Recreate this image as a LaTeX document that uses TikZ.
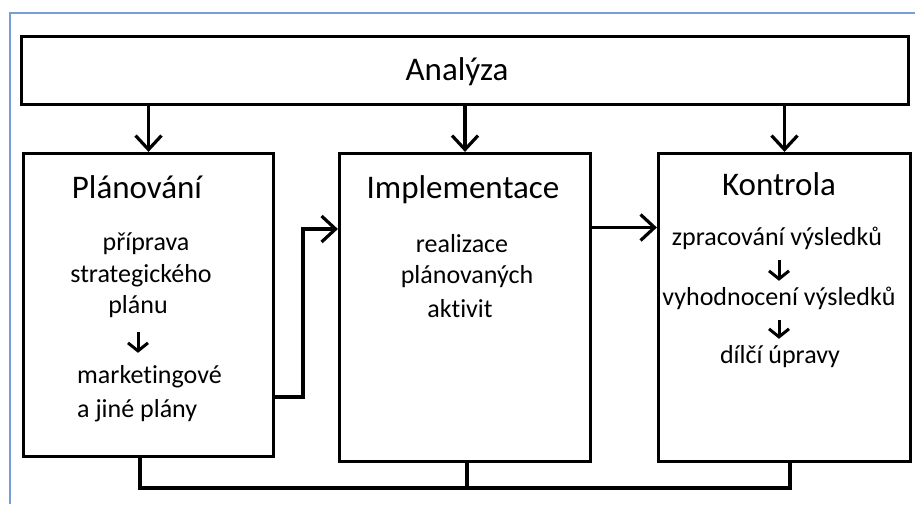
\documentclass[tikz,border=0pt]{standalone}
\usepackage{fontspec}
\setmainfont{Carlito}[Ligatures = CommonOff]
\usetikzlibrary{arrows.meta, positioning}
\definecolor{framebl}{RGB}{122,158,212}
\tikzset{>= {Straight Barb[length = 14pt, width = 26pt]},
         box/.style = {draw, line width = 3.2pt, minimum width = #1, inner sep = 0pt},
         conn/.style = {line width = 3.2pt},
         head/.style = {font = \fontsize{33}{40}\selectfont, anchor = base, inner sep = 0pt},
         body/.style = {font = \fontsize{26}{32}\selectfont, anchor = base, inner sep = 0pt,
                        text height = 20pt, text depth = 6pt},
         sarrow/.style = {line width = 3pt, shorten <= 9pt, shorten >= 4pt,
                          -{Straight Barb[length = 8pt, width = 20pt]}}}

\begin{document}
\begin{tikzpicture}[x = 1pt, y = -1pt]
  \useasboundingbox (0,0) rectangle (915,504);
  \draw[framebl, line width = 1.5pt] (10,504) -- (10,13) -- (915,13);

  \node[box = 887pt, minimum height = 68pt]  (An) at (465,70.5)  {};
  \node[box = 250pt, minimum height = 303pt] (P)  at (148.5,305) {};
  \node[box = 251pt, minimum height = 308pt] (I)  at (465,307.5) {};
  \node[box = 252pt, minimum height = 308pt] (K)  at (784.5,307.5) {};

  \node[head] (Ah) at (457,80)  {Analýza};
  \node[head] (Ph) at (137,198) {Plánování};
  \node[head] (Ih) at (463,198) {Implementace};
  \node[head] (Kh) at (779,195) {Kontrola};

  % planovani
  \node[body]             (Pa) at (146,250) {příprava};
  \node[body]             (Pb) at (141,282) {strategického};
  \node[body]             (Pc) at (138,313) {plánu};
  \node[body, anchor = base west] (Pd) at (77,383) {marketingové};
  \node[body, anchor = base west] (Pe) at (77,417) {a jiné plány};

  % implementace
  \node[body] (Ia) at (462,252) {realizace};
  \node[body] (Ib) at (467,283) {plánovaných};
  \node[body] (Ic) at (460,317) {aktivit};

  % kontrola
  \node[body] (Ka) at (777,245) {zpracování výsledků};
  \node[body] (Kb) at (779,305) {vyhodnocení výsledků};
  \node[body] (Kc) at (780,363) {dílčí úpravy};

  \coordinate (bend) at (303,229);
  \coordinate (fb)   at (0,488);

  \path[conn, ->] (An.south -| P) edge (P)
                  (An.south -| I) edge (I)
                  (An.south -| K) edge (K);
  \draw[conn, ->] ([yshift = -92pt]P.east) -| (bend) -- (bend -| I.west);
  \draw[conn, ->] ([yshift = 80pt]I.east) -- ([yshift = 80pt]K.west);
  \draw[conn] ([xshift = -8.5pt]P.south) -- ([xshift = -8.5pt]P.south |- fb)
              -- ([xshift = 5.5pt]K.south |- fb) -- ([xshift = 5.5pt]K.south);
  \draw[conn] ([xshift = 2pt]I.south) -- ([xshift = 2pt]I.south |- fb);

  \path[sarrow, shorten <= 13pt, shorten >= 10pt] (Pc.south) edge (Pc.south |- Pd.north);
  \path[sarrow] (Ka.south -| Kh) edge (Kh |- Kb.north);
  \path[sarrow] (Kb.south -| Kh) edge (Kh |- Kc.north);
\end{tikzpicture}
\end{document}
